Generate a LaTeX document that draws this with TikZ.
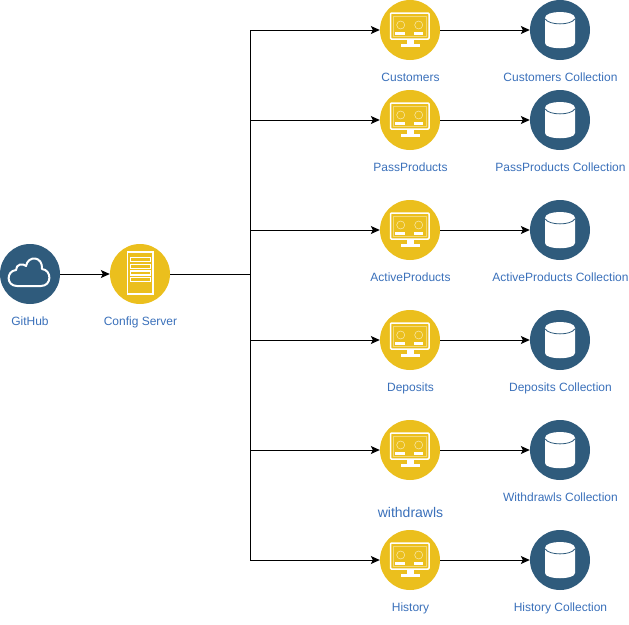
\documentclass[tikz,border=0pt]{standalone}
\usepackage{fontspec}
\setmainfont{Liberation Sans}
\usetikzlibrary{arrows.meta}
\definecolor{nodeyellow}{HTML}{EBBF1D}
\definecolor{nodeblue}{HTML}{2F5B7C}
\definecolor{labelblue}{HTML}{3A70BA}
\tikzset{
  x=1pt,y=-1pt,
  service/.style={circle,fill=nodeyellow,minimum size=60pt,inner sep=0pt},
  store/.style={circle,fill=nodeblue,minimum size=60pt,inner sep=0pt},
  lbl/.style={text=labelblue,font=\fontsize{12}{14}\selectfont,inner sep=0pt,anchor=base},
  lblbig/.style={text=labelblue,font=\fontsize{14}{16}\selectfont,inner sep=0pt,anchor=base},
  link/.style={draw=black,line width=1pt,-{Stealth[length=9pt,width=8pt,inset=2pt]}},
  plainlink/.style={draw=black,line width=1pt},
  pics/monitoricon/.style={code={
    \draw[white,line width=1.5pt,rounded corners=1pt] (-19.5,-17) rectangle (19,9);
    \draw[white,opacity=.4,line width=0.5pt] (-16.5,-14) rectangle (16,6);
    \draw[white,opacity=.6,line width=0.6pt] (-9.3,-5) circle (4);
    \draw[white,opacity=.6,line width=0.6pt] (8.7,-5) circle (4);
    \fill[white] (-14.7,1.5) rectangle (-5.3,4.8);
    \fill[white] (3.5,1.5) rectangle (13,4.8);
    \fill[white] (-3,9) rectangle (4,14.3);
    \fill[white] (-9.3,14.3) rectangle (10,17);
  }},
  pics/dbicon/.style={code={
    \fill[white] (-15,-12) .. controls (-15,-20) and (15,-20) .. (15,-12)
      -- (15,13) .. controls (15,20) and (-15,20) .. (-15,13) -- cycle;
    \draw[nodeblue,line width=0.8pt] (-14.8,-11) .. controls (-11,-4.5) and (11,-4.5) .. (14.8,-11);
  }},
  pics/cloudicon/.style={code={
    \draw[white,line width=2pt,line join=round]
      (-13,12) .. controls (-24,12) and (-24,-3) .. (-14,-4)
      .. controls (-14,-10) and (-7,-11) .. (-4,-8)
      .. controls (-2,-19) and (13,-18) .. (12,-5)
      .. controls (22,-4) and (22,12) .. (11,12) -- cycle;
  }},
  pics/servericon/.style={code={
    \draw[white,line width=1.3pt] (-12.3,-22) rectangle (13,20);
    \foreach \ya/\yb in {-16.3/-12.3,-9.3/-5.3,-3/1,3.7/7.7}
      \draw[white,line width=1.1pt] (-9.5,\ya) rectangle (10.7,\yb);
  }}
}
\begin{document}
\begin{tikzpicture}
\useasboundingbox (0,0) rectangle (629,624);
\node[store] (github) at (30,274) {};
\node[service] (config) at (140,274) {};
\coordinate (bus) at (250,274);
\pic at (github) {cloudicon};
\pic at (config) {servericon};
\node[lbl] at (30,325) {GitHub};
\node[lbl] at (140.5,325) {Config Server};
\node[service] (svcA) at (410,30) {};
\node[service] (svcB) at (410,120) {};
\node[service] (svcC) at (410,230) {};
\node[service] (svcD) at (410,340) {};
\node[service] (svcE) at (410,450) {};
\node[service] (svcF) at (410,560) {};
\node[store] (dbA) at (560,30) {};
\node[store] (dbB) at (560,120) {};
\node[store] (dbC) at (560,230) {};
\node[store] (dbD) at (560,340) {};
\node[store] (dbE) at (560,450) {};
\node[store] (dbF) at (560,560) {};
\foreach \n in {svcA,svcB,svcC,svcD,svcE,svcF} \pic at (\n) {monitoricon};
\foreach \n in {dbA,dbB,dbC,dbD,dbE,dbF} \pic at (\n) {dbicon};
\node[lbl] at (410.5,81) {Customers};
\node[lbl] at (410.5,171) {PassProducts};
\node[lbl] at (410.5,281) {ActiveProducts};
\node[lbl] at (410.5,391) {Deposits};
\node[lblbig] at (410.5,517) {withdrawls};
\node[lbl] at (410.5,611) {History};
\node[lbl] at (560.5,81) {Customers Collection};
\node[lbl] at (560.5,171) {PassProducts Collection};
\node[lbl] at (560.5,281) {ActiveProducts Collection};
\node[lbl] at (560.5,391) {Deposits Collection};
\node[lbl] at (560.5,501) {Withdrawls Collection};
\node[lbl] at (560.5,611) {History Collection};
\draw[link] (github) -- (config);
\draw[plainlink] (config) -- (bus);
\foreach \n in {svcA,svcB,svcC,svcD,svcE,svcF}
  \draw[link] (bus) |- (\n);
\draw[link] (svcA) -- (dbA);
\draw[link] (svcB) -- (dbB);
\draw[link] (svcC) -- (dbC);
\draw[link] (svcD) -- (dbD);
\draw[link] (svcE) -- (dbE);
\draw[link] (svcF) -- (dbF);
\end{tikzpicture}
\end{document}
